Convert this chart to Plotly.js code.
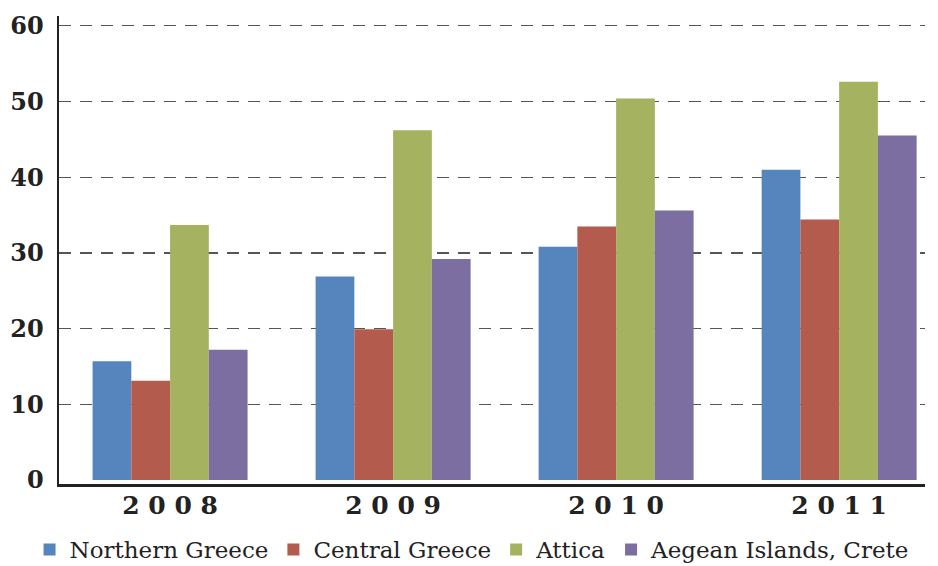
<!DOCTYPE html>
<html>
<head>
<meta charset="utf-8">
<script src="https://cdn.plot.ly/plotly-3.0.1.min.js"></script>
<style>
  html, body { margin: 0; padding: 0; background: #fff; }
  #chart { width: 938px; height: 566px; }
</style>
</head>
<body>
<div id="chart"></div>
<script>
// Years on the category axis
const years = ['2008', '2009', '2010', '2011'];

// One series per region
const northernGreece = [15.7, 26.9, 30.8, 41.0];
const centralGreece = [13.1, 19.9, 33.5, 34.4];
const attica = [33.7, 46.2, 50.4, 52.6];
const aegeanCrete = [17.2, 29.2, 35.6, 45.5];

const seriesNames = ['Northern Greece', 'Central Greece', 'Attica', 'Aegean Islands, Crete'];
const seriesValues = [northernGreece, centralGreece, attica, aegeanCrete];
const seriesColors = ['#5585bc', '#b35b4d', '#a5b360', '#7c6ea0'];

// Y tick values
const yTicks = [0, 10, 20, 30, 40, 50, 60];
const gridTicks = [10, 20, 30, 40, 50, 60];

const serif = 'DejaVu Serif, Liberation Serif, serif';

const traces = seriesNames.map((name, i) => ({
  type: 'bar',
  name: name,
  x: years,
  y: seriesValues[i],
  marker: { color: seriesColors[i], line: { width: 0 } },
  hoverinfo: 'x+y+name'
}));

// Invisible trace on an overlaid axis to carry the dashed gridlines (no line at zero)
traces.push({
  type: 'scatter',
  x: [years[0]],
  y: [gridTicks[0]],
  yaxis: 'y2',
  mode: 'markers',
  marker: { opacity: 0 },
  showlegend: false,
  hoverinfo: 'skip'
});

// Letter-spaced year labels
const spaced = s => s.split('').join(' ');

const yRange = [-0.53, 61.3];

const layout = {
  width: 938,
  height: 566,
  margin: { l: 59, r: 13, t: 16, b: 82, autoexpand: false },
  paper_bgcolor: '#ffffff',
  plot_bgcolor: '#ffffff',
  barmode: 'group',
  bargap: 0.305,
  bargroupgap: 0,
  font: { family: serif, color: '#222222' },
  xaxis: {
    type: 'category',
    range: [-0.498, 3.385],
    tickvals: years,
    ticktext: years.map(spaced),
    showgrid: false,
    zeroline: false,
    showline: true,
    linecolor: '#222222',
    linewidth: 2.5,
    ticks: '',
    tickfont: { family: serif, size: 25, color: '#222222', weight: 'bold' },
    ticklabelstandoff: -3
  },
  yaxis: {
    range: yRange,
    tickvals: yTicks,
    showgrid: false,
    zeroline: false,
    showline: true,
    linecolor: '#222222',
    linewidth: 2.5,
    ticks: '',
    tickfont: { family: serif, size: 24, color: '#222222', weight: 'bold' },
    ticklabelstandoff: 8
  },
  yaxis2: {
    overlaying: 'y',
    range: yRange,
    tickvals: gridTicks,
    showticklabels: false,
    showgrid: true,
    gridcolor: '#555555',
    gridwidth: 1.3,
    griddash: '12px,9px',
    zeroline: false,
    showline: false,
    ticks: ''
  },
  legend: {
    orientation: 'h',
    x: -0.034,
    xanchor: 'left',
    y: -0.094,
    yanchor: 'top',
    font: { family: serif, size: 23, color: '#222222' },
    itemwidth: 30,
    tracegroupgap: 0,
    bgcolor: 'rgba(0,0,0,0)'
  },
  showlegend: true
};

Plotly.newPlot('chart', traces, layout, { displayModeBar: false, staticPlot: true });
</script>
</body>
</html>
